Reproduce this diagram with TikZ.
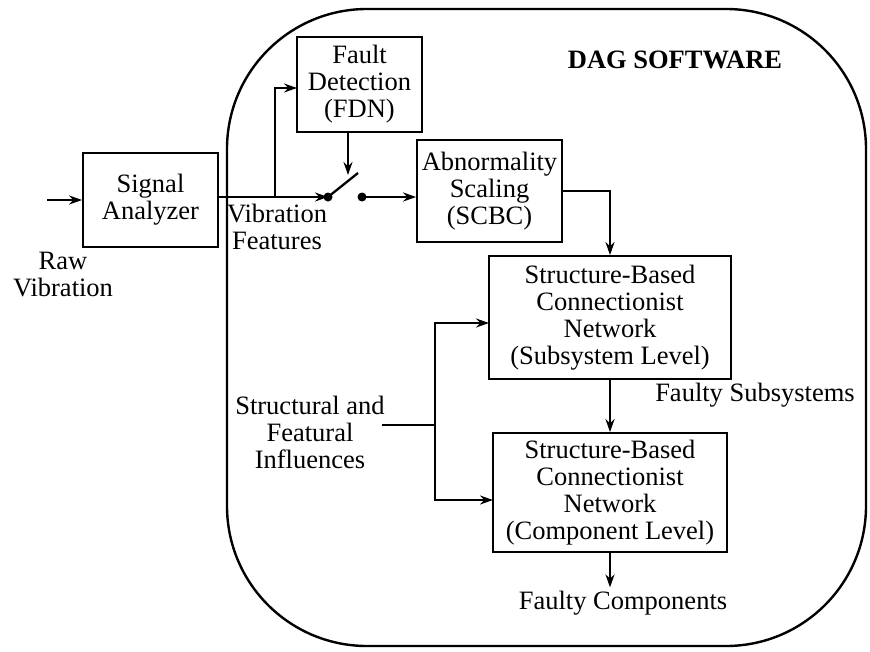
\documentclass[tikz,border=0pt]{standalone}
\usepackage{fontspec}
\setmainfont{Liberation Serif}
\usetikzlibrary{arrows.meta}
\begin{document}
\begin{tikzpicture}[x=1pt,y=-1pt,
  every node/.style={font=\fontsize{26.5}{27}\selectfont, align=center},
  blk/.style={draw, line width=1.8pt, inner sep=0pt},
  arr/.style={line width=2.3pt, -{Stealth[length=13pt,width=9pt]}},
  ln/.style={line width=2.3pt},
  dot/.style={circle, fill, inner sep=0pt, minimum size=9pt}]
\useasboundingbox (0,0) rectangle (870,651);
% outer software boundary
\draw[line width=2.4pt, rounded corners=140pt] (227,9) rectangle (866,646);
\node[font=\fontsize{26.5}{27}\selectfont\bfseries] (dag) at (675,60) {DAG SOFTWARE};

% blocks
\node[blk, minimum width=135pt, minimum height=94pt] (sig) at (150.5,200) {Signal\\Analyzer};
\node[blk, minimum width=125pt, minimum height=95pt] (fdn) at (359.5,84.5) {Fault\\Detection\\(FDN)};
\node[blk, minimum width=145pt, minimum height=102pt] (scbc) at (489.5,191) {Abnormality\\Scaling\\(SCBC)};
\node[blk, minimum width=242pt, minimum height=123pt] (sub) at (610,317.5) {Structure-Based\\Connectionist\\Network\\(Subsystem Level)};
\node[blk, minimum width=234pt, minimum height=119pt] (comp) at (610,492.5) {Structure-Based\\Connectionist\\Network\\(Component Level)};

% labels
\node (raw) at (63,275) {Raw\\Vibration};
\node (vib) at (277,227) {Vibration\\Features};
\node (infl) at (310,432) {Structural and\\Featural\\Influences};
\node (fs) at (755,395) {Faulty Subsystems};
\node (fc) at (623,603) {Faulty Components};

% coordinates
\coordinate (in) at (47,200);
\coordinate (br) at (275,197);
\coordinate (fin) at (297,88);
\coordinate (sw) at (348,175);
\coordinate (lev) at (358,173);
\coordinate (sl) at (382,425);
\coordinate (j) at (435,425);
\coordinate (subin) at (489,323);
\coordinate (compin) at (493,500);
\node[dot] (s1) at (328,197) {};
\node[dot] (s2) at (362,197) {};

% connectors
\draw[arr] (in) -- (sig.west);
\draw[arr] (sig.east |- br) -- (s1.center);
\draw[arr] (br) |- (fin);
\draw[arr] (fdn.south -| sw) -- (sw);
\draw[ln] (s1.center) -- (lev);
\draw[arr] (s2.center) -- (s2 -| scbc.west);
\draw[arr] (scbc.east) -| (sub.north);
\draw[arr] (sub.south) -- (comp.north);
\draw[arr] (comp.south) -- (comp.south |- fc.north);
\draw[ln] (sl) -- (j);
\draw[arr] (j) |- (subin);
\draw[arr] (j) |- (compin);
\end{tikzpicture}
\end{document}
